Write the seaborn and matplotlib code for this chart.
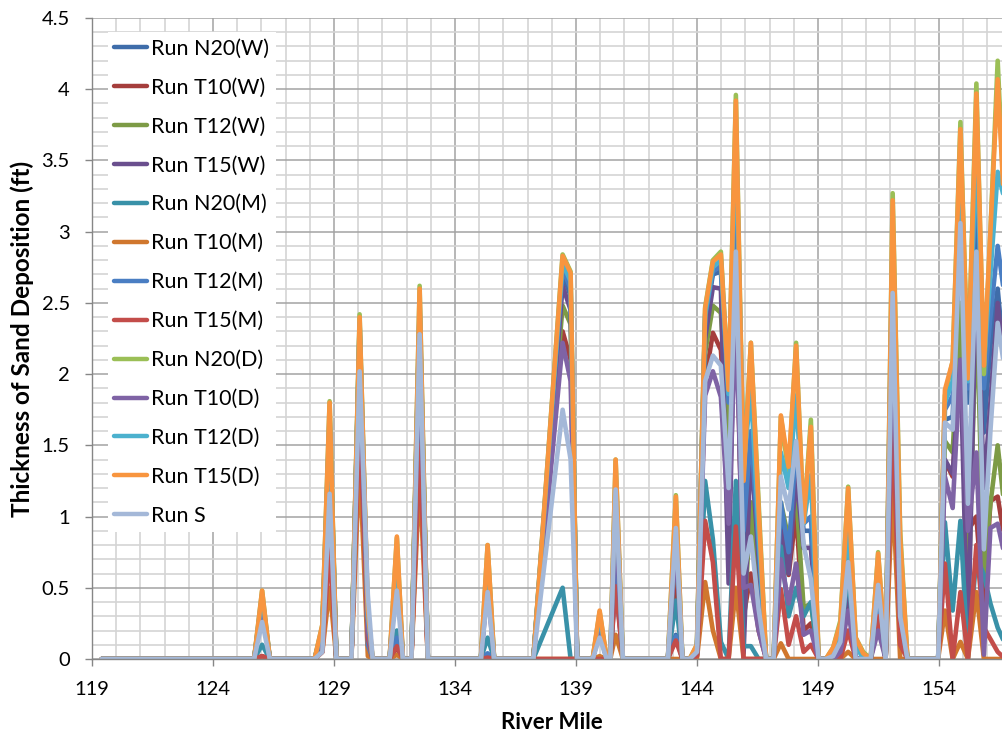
import numpy as np
import pandas as pd
import matplotlib
matplotlib.use("Agg")
import matplotlib.pyplot as plt
import seaborn as sns
from matplotlib.ticker import FixedLocator, MultipleLocator, FuncFormatter

# ---------------- data ----------------
river_mile = [
    119.4, 125.7, 126.03, 126.35, 128.2, 128.52, 128.82, 129.1, 129.72, 130.06,
    130.4, 130.6, 131.3, 131.6, 131.85, 132.2, 132.54, 132.88,
    135.07, 135.35, 135.62, 137.24, 138.45, 138.78, 139.05, 139.69, 139.98,
    140.27, 140.42, 140.64, 140.94, 142.8, 143.13, 143.4, 143.7,
    144.0, 144.34, 144.66, 144.99, 145.31, 145.61, 145.93, 146.23, 146.55,
    146.86, 147.17, 147.47, 147.79, 148.1, 148.41, 148.71, 149.03, 149.33,
    149.63, 149.93, 150.25, 150.56, 150.87, 151.18, 151.49, 151.8, 152.09,
    152.4, 152.7, 153.97, 154.25, 154.57, 154.89, 155.2, 155.55, 155.86,
    156.13, 156.43, 156.75,
]

run_names = ["Run N20(W)", "Run T10(W)", "Run T12(W)", "Run T15(W)",
             "Run N20(M)", "Run T10(M)", "Run T12(M)", "Run T15(M)",
             "Run N20(D)", "Run T10(D)", "Run T12(D)", "Run T15(D)", "Run S"]

run_n20_w = [0, 0, .42, 0, 0, .2, 1.6, 0, 0, 2.3, .1, 0, 0, .14, 0, 0, 2.4, 0,
             0, .03, 0, 0, 2.70, 2.55, 0, 0, .2, 0, 0, .55, 0, 0, .17, 0, 0,
             .03, 2.35, 2.70, 2.72, 1.76, 3.2, .8, 1.5, .7, 0, 0, 1.0, .7, 1.4, .9, .9, 0, 0,
             .02, .15, .8, 0, 0, 0, .4, 0, 2.8, .5, 0, 0, 1.68, 1.7, 3.0, 1.8, 3.3, 1.59, 2.2, 2.6, 2.0]
run_t10_w = [0, 0, .02, 0, 0, .05, .82, 0, 0, 1.85, .15, 0, 0, .08, 0, 0, 1.6, 0,
             0, .01, 0, 0, 2.30, 2.1, 0, 0, 0, 0, 0, .9, 0, 0, .6, 0, 0,
             .02, 1.95, 2.29, 2.17, 1.3, 2.6, .3, .6, .2, 0, 0, .8, .59, 1.03, .2, .25, 0, 0,
             0, 0, .4, 0, 0, 0, .3, 0, 2.2, .2, 0, 0, 1.39, 1.28, 2.2, .9, 1.0, .3, 1.11, 1.14, .8]
run_t12_w = [0, 0, .40, 0, 0, .2, 1.7, 0, 0, 2.35, .2, 0, 0, .65, 0, 0, 2.45, 0,
             0, .6, 0, 0, 2.48, 2.35, 0, 0, .25, 0, 0, 1.0, 0, 0, .8, 0, 0,
             .05, 2.15, 2.48, 2.43, 1.56, 2.9, .2, 1.1, .4, 0, 0, 1.1, .84, 1.17, .36, .39, 0, 0,
             .05, .2, .7, .1, .04, 0, .45, 0, 2.6, .5, 0, 0, 1.53, 1.45, 2.5, .3, 2.5, .6, 1.09, 1.5, 1.0]
run_t15_w = [0, 0, .36, 0, 0, .18, 1.5, 0, 0, 2.2, .2, 0, 0, .7, 0, 0, 2.3, 0,
             0, .55, 0, 0, 2.62, 2.45, 0, 0, .22, 0, 0, 1.1, 0, 0, .9, 0, 0,
             .05, 2.25, 2.61, 2.6, .53, 2.9, .04, 1.5, .7, 0, 0, .9, .6, 1.3, .78, .78, 0, 0,
             .02, .1, .5, 0, 0, 0, .4, 0, 2.5, .4, 0, 0, 1.4, 1.3, 2.1, .05, 2.8, 1.2, 1.8, 2.5, 2.0]
run_n20_m = [0, 0, .10, 0, 0, .15, .95, 0, 0, 2.05, .18, 0, 0, .2, 0, 0, 2.2, 0,
             0, .15, 0, 0, .5, 0, 0, 0, .22, 0, 0, .75, 0, 0, .41, 0, 0,
             .03, 1.25, .84, .12, 0, 1.25, .09, .09, 0, 0, 0, .79, .3, .5, .3, .4, 0, 0,
             .02, .15, .6, 0, 0, 0, .3, 0, 2.4, .3, 0, 0, .96, .34, .97, 0, .72, .59, .39, .22, .1]
run_t10_m = [0, 0, 0, 0, 0, .05, .5, 0, 0, 1.4, .02, 0, 0, .03, 0, 0, 1.3, 0,
             0, 0, 0, 0, 0, 0, 0, 0, .02, 0, 0, .17, 0, 0, 0, 0, 0,
             0, .54, .2, 0, 0, .5, 0, 0, 0, 0, 0, .11, 0, 0, 0, 0, 0, 0,
             0, 0, .05, 0, 0, 0, 0, 0, 1.2, 0, 0, 0, .34, 0, .12, 0, .47, 0, 0, 0, 0]
run_t12_m = [0, 0, .43, 0, 0, .2, 1.65, 0, 0, 2.3, .1, 0, 0, .15, 0, 0, 2.45, 0,
             0, .04, 0, 0, 2.74, 2.6, 0, 0, .2, 0, 0, .6, 0, 0, .16, 0, 0,
             .03, 2.4, 2.72, 2.76, 1.8, 3.5, .9, 1.6, .8, 0, 0, 1.1, .75, 1.5, .95, 1.0, 0, 0,
             .02, .18, .85, 0, 0, 0, .45, 0, 2.9, .5, 0, 0, 1.75, 1.85, 3.2, 1.9, 3.5, 1.9, 2.4, 2.9, 2.5]
run_t15_m = [0, 0, .02, 0, 0, .05, .8, 0, 0, 1.7, .15, 0, 0, .09, 0, 0, 1.5, 0,
             0, .01, 0, 0, 0, 0, 0, 0, 0, 0, 0, .51, 0, 0, .13, 0, 0,
             .02, .97, .68, 0, 0, .93, 0, 0, 0, 0, 0, .49, .1, .3, .05, .1, 0, 0,
             0, 0, .2, 0, 0, 0, .3, 0, 1.7, .1, 0, 0, .67, 0, .47, 0, .8, .22, .14, .05, 0]
run_n20_d = [0, 0, .48, 0, 0, .24, 1.81, 0, 0, 2.42, .3, 0, 0, .85, 0, 0, 2.62, 0,
             0, .8, 0, 0, 2.84, 2.72, 0, 0, .33, 0, 0, 1.4, 0, 0, 1.15, 0, 0,
             .1, 2.47, 2.8, 2.86, 1.9, 3.96, 1.3, 2.22, 1.1, 0, 0, 1.7, 1.3, 2.22, .96, 1.68, 0, 0,
             .08, .27, 1.21, .15, .05, 0, .75, 0, 3.27, .9, 0, 0, 1.85, 2.09, 3.77, 2.0, 4.04, 2.0, 3.0, 4.2, 3.0]
run_t10_d = [0, 0, .36, 0, 0, .18, 1.45, 0, 0, 2.1, .2, 0, 0, .62, 0, 0, 2.2, 0,
             0, .5, 0, 0, 2.22, 1.95, 0, 0, .2, 0, 0, 1.0, 0, 0, .8, 0, 0,
             .05, 1.85, 2.02, 1.84, .95, 2.4, .5, .52, .2, 0, 0, .7, .39, .67, .17, .2, 0, 0,
             0, .05, .34, 0, 0, 0, .2, 0, 2.3, .3, 0, 0, 1.28, 1.06, 2.1, .9, 1.45, .03, .92, .95, .7]
run_t12_d = [0, 0, .45, 0, 0, .22, 1.72, 0, 0, 2.36, .3, 0, 0, .75, 0, 0, 2.5, 0,
             0, .7, 0, 0, 2.78, 2.65, 0, 0, .3, 0, 0, 1.3, 0, 0, 1.0, 0, 0,
             .08, 2.42, 2.75, 2.8, 1.86, 3.7, 1.35, 1.89, .9, 0, 0, 1.45, 1.2, 1.85, .95, 1.29, 0, 0,
             .05, .22, .95, .1, 0, 0, .55, 0, 3.0, .7, 0, 0, 1.8, 1.95, 3.4, 1.95, 3.6, 2.08, 2.7, 3.42, 3.2]
run_t15_d = [0, 0, .48, 0, 0, .24, 1.8, 0, 0, 2.4, .35, 0, 0, .86, 0, 0, 2.6, 0,
             0, .8, 0, 0, 2.83, 2.71, 0, 0, .34, 0, 0, 1.4, 0, 0, 1.14, 0, 0,
             .1, 2.46, 2.79, 2.84, 1.89, 3.92, 1.25, 2.22, 1.05, 0, 0, 1.71, 1.35, 2.2, .96, 1.63, 0, 0,
             .08, .25, 1.2, .15, .04, 0, .74, 0, 3.22, .85, 0, 0, 1.89, 2.09, 3.72, 1.97, 3.97, 2.06, 3.0, 4.07, 3.0]
run_s = [0, 0, .26, 0, 0, .05, 1.16, 0, 0, 2.02, .45, 0, 0, .48, 0, 0, 2.28, 0,
         0, .47, 0, 0, 1.75, 1.4, 0, 0, .15, 0, 0, 1.19, 0, 0, .92, 0, 0,
         .05, 1.95, 2.13, 2.06, 1.2, 2.86, .6, .86, .35, 0, 0, 1.28, 1.05, 1.53, .8, .56, 0, 0,
         .02, .12, .68, 0, 0, 0, .52, 0, 2.57, .3, 0, 0, 1.66, 1.61, 3.06, 1.09, 2.86, .77, 1.6, 2.36, 2.0]

series_values = [run_n20_w, run_t10_w, run_t12_w, run_t15_w, run_n20_m, run_t10_m,
                 run_t12_m, run_t15_m, run_n20_d, run_t10_d, run_t12_d, run_t15_d, run_s]

run_colors = ["#3F6DAA", "#A53E3C", "#7D9B46", "#6A4F8E", "#3991A8", "#D0772E",
              "#4A7EC3", "#C34D4A", "#9BBF56", "#7F63A5", "#4CB1CE", "#F8953F", "#A4B8D8"]

x_tick_values = [119, 124, 129, 134, 139, 144, 149, 154]
x_minor_values = list(range(120, 157))

# ---------------- figure ----------------
sns.set_theme(style="white")
plt.rcParams["font.family"] = ["Lato", "DejaVu Sans"]

frames = []
for name, vals in zip(run_names, series_values):
    frames.append(pd.DataFrame({"River Mile": river_mile, "Thickness": vals, "Run": name}))
df = pd.concat(frames, ignore_index=True)

fig = plt.figure(figsize=(10.03, 7.38), dpi=100)
ax = fig.add_axes([92 / 1003, 1 - 659 / 738, 911 / 1003, 641 / 738])
ax.set_axisbelow(True)

sns.lineplot(data=df, x="River Mile", y="Thickness", hue="Run", hue_order=run_names,
             palette=run_colors, linewidth=3.3, estimator=None, sort=False, ax=ax)

ax.set_xlim(119, 156.65)
ax.set_ylim(0, 4.5)

ax.xaxis.set_major_locator(FixedLocator(x_tick_values))
ax.xaxis.set_minor_locator(FixedLocator(x_minor_values))
ax.yaxis.set_major_locator(MultipleLocator(0.5))
ax.yaxis.set_minor_locator(MultipleLocator(0.1))
ax.yaxis.set_major_formatter(FuncFormatter(lambda v, p: f"{v:g}"))

ax.grid(which="minor", color="#d4d4d4", linewidth=1.2)
ax.grid(which="major", color="#a3a3a3", linewidth=1.1)

for side in ["top", "right"]:
    ax.spines[side].set_visible(False)
for side in ["left", "bottom"]:
    ax.spines[side].set_color("#868686")
    ax.spines[side].set_linewidth(1.0)

ax.tick_params(which="minor", length=0)
ax.tick_params(axis="both", which="major", bottom=True, left=True, direction="out",
               length=5, width=1, color="#868686", labelsize=14.5, labelcolor="black", pad=11)

ax.set_xlabel("River Mile", fontsize=16, fontweight="bold", color="black")
ax.set_ylabel("Thickness of Sand Deposition (ft)", fontsize=17.5, fontweight="bold", color="black")
ax.xaxis.set_label_coords(0.505, -0.083)
ax.yaxis.set_label_coords(-0.064, 0.5)

handles, labels = ax.get_legend_handles_labels()
leg = ax.legend(handles, labels, loc="upper left", bbox_to_anchor=(0.0176, 0.978),
                frameon=True, fancybox=False, edgecolor="none", facecolor="white",
                framealpha=1, fontsize=15.5, handlelength=1.5, handletextpad=0.2,
                labelspacing=0.88, borderpad=0.3, borderaxespad=0)
for line in leg.get_lines():
    line.set_linewidth(3.2)
for t in leg.get_texts():
    t.set_color("black")

fig.savefig("out.png", dpi=100)
